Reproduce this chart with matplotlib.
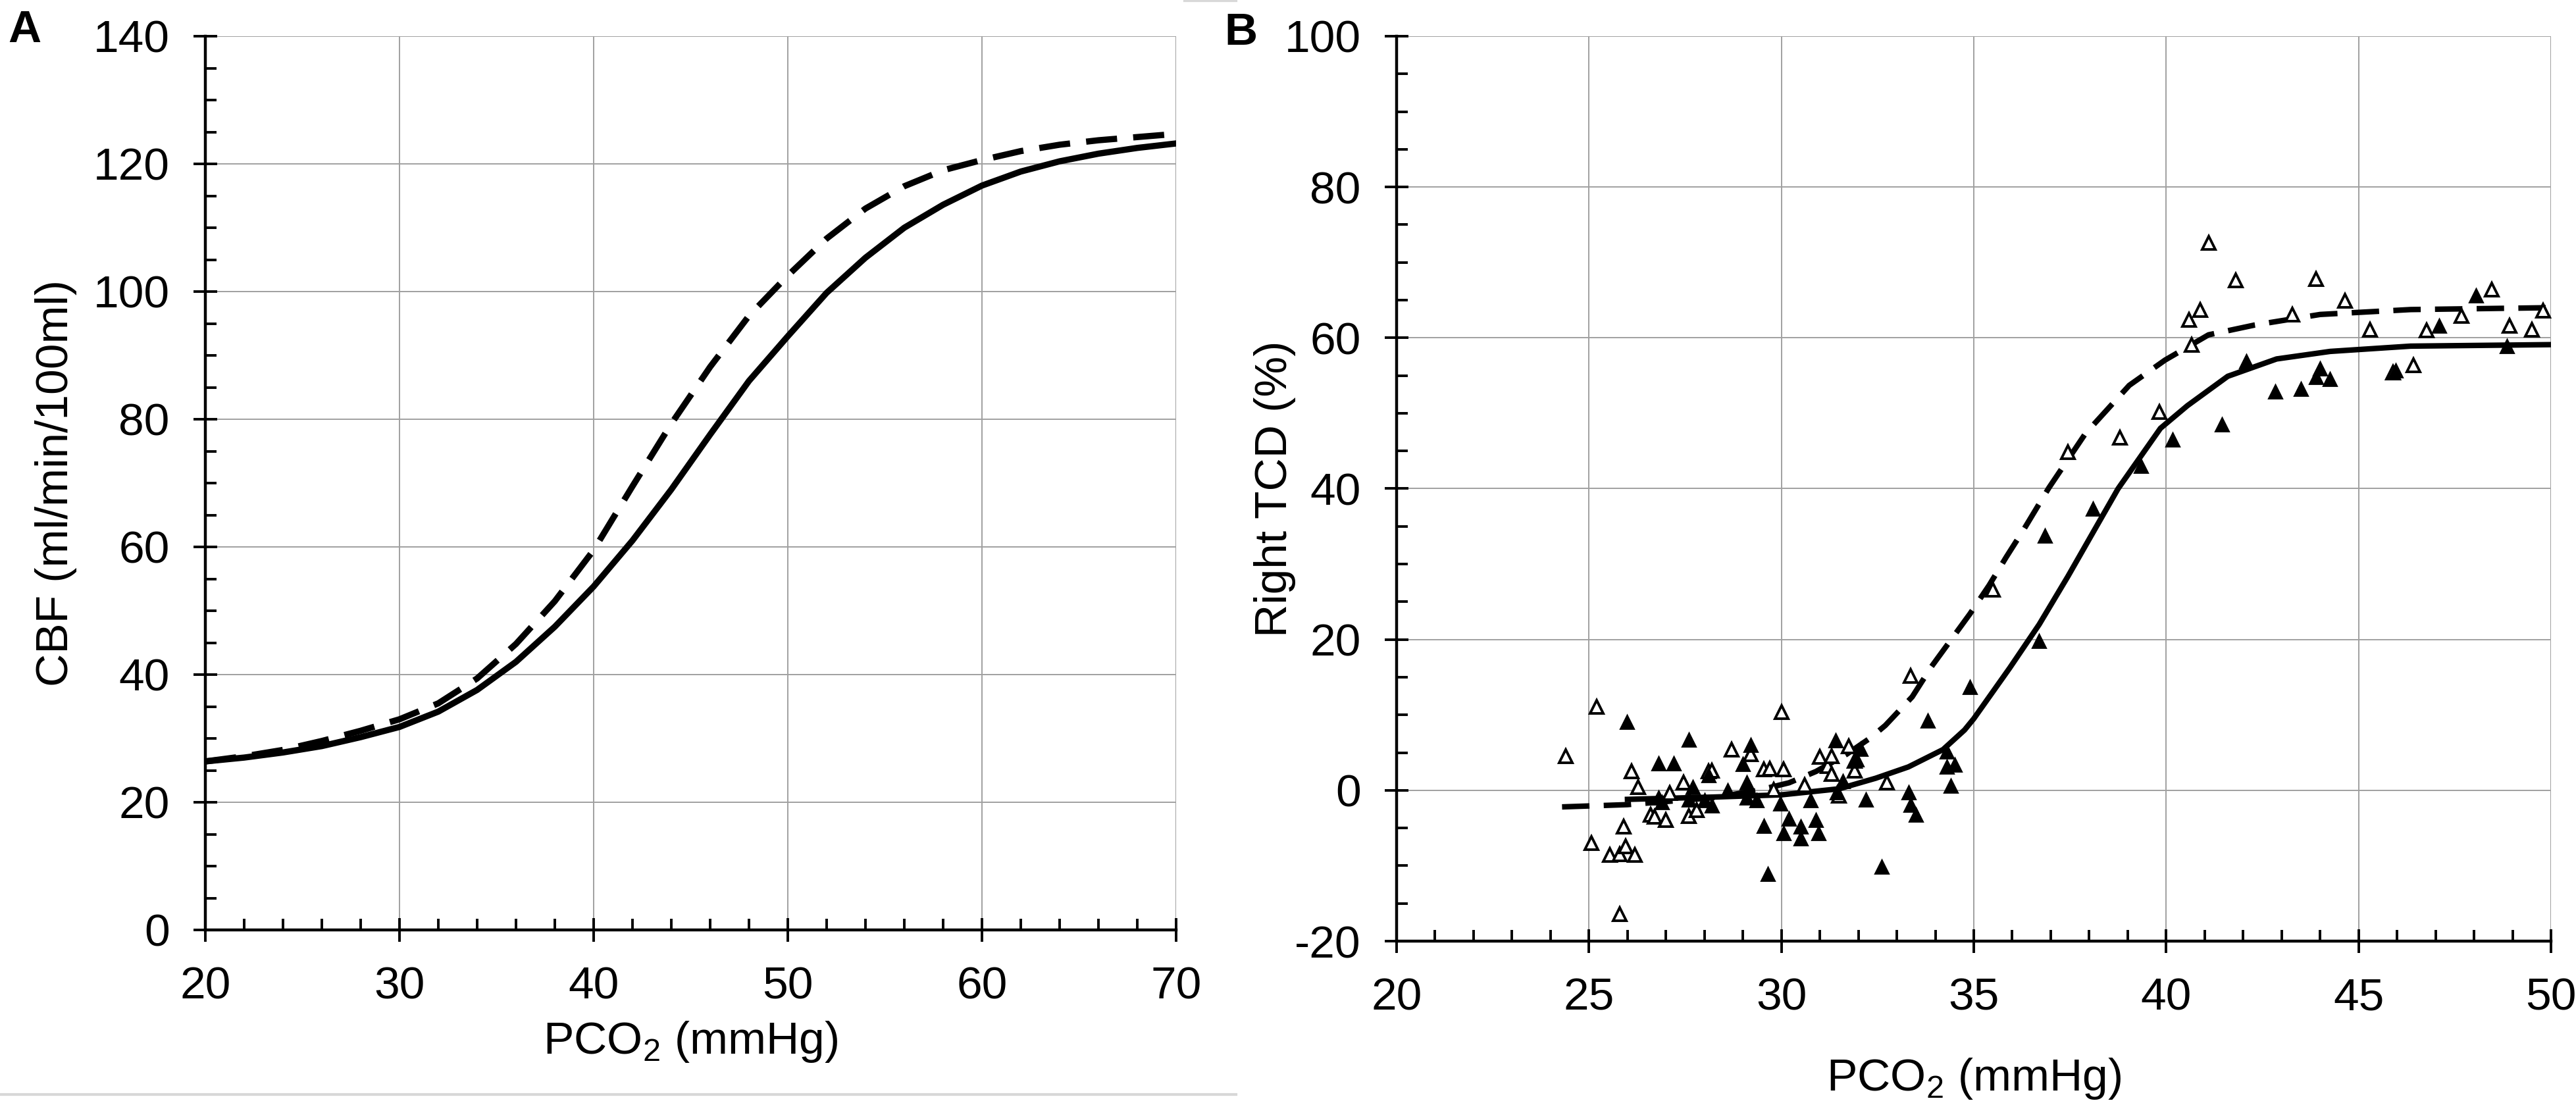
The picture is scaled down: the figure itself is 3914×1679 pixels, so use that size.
import matplotlib
matplotlib.use("Agg")
import matplotlib.pyplot as plt
from matplotlib.ticker import MultipleLocator
from matplotlib.lines import Line2D

plt.rcParams['font.family'] = ['Liberation Sans', 'DejaVu Sans']
plt.rcParams['mathtext.fontset'] = 'custom'
plt.rcParams['mathtext.rm'] = 'Liberation Sans'
plt.rcParams['axes.unicode_minus'] = False

# Panel A: model curves CBF vs PCO2
a_x = [20, 22, 24, 26, 28, 30, 32, 34, 36, 38, 40, 42, 44, 46, 48, 50, 52, 54, 56, 58, 60, 62, 64, 66, 68, 70]
a_solid = [26.4, 27.0, 27.8, 28.8, 30.2, 31.8, 34.2, 37.6, 42.0, 47.5, 53.8, 61.0, 69.0, 77.6, 86.0, 93.0,
           99.8, 105.3, 110.0, 113.6, 116.6, 118.8, 120.4, 121.6, 122.5, 123.2]
a_dashed = [26.4, 27.2, 28.2, 29.6, 31.2, 33.0, 35.5, 39.4, 44.8, 51.5, 59.5, 69.5, 79.3, 88.2, 96.2, 102.5,
            108.3, 113.0, 116.5, 119.0, 120.6, 122.0, 123.0, 123.7, 124.2, 124.7]

# Panel B: fitted curves
b_solid_x = [26.0, 28.2, 30.0, 31.5, 32.45, 33.3, 34.2, 34.76, 35.0, 35.93, 36.7, 37.45, 38.2, 38.75, 39.85,
             40.55, 41.6, 42.87, 44.26, 46.35, 50.0]
b_solid_y = [-1.2, -0.9, -0.6, 0.2, 1.6, 3.1, 5.4, 8.0, 9.5, 16.2, 22.0, 28.4, 35.1, 40.0, 48.0,
             51.0, 54.9, 57.2, 58.2, 58.9, 59.1]
b_dash_x = [24.3, 26.0, 28.2, 29.4, 30.2, 30.9, 31.7, 32.3, 32.7, 33.4, 33.9, 34.4, 34.9, 35.4, 35.84, 36.3,
            36.95, 37.9, 39.04, 39.97, 41.1, 42.3, 44.0, 46.35, 50.0]
b_dash_y = [-2.2, -1.9, -1.0, 0.0, 1.0, 2.5, 4.8, 6.9, 8.6, 12.4, 16.4, 19.9, 23.4, 27.2, 30.9, 34.6,
            40.1, 47.3, 53.7, 57.05, 60.4, 61.7, 63.1, 63.75, 64.0]

# Panel B: measured points (open triangles)
open_x = [24.4, 25.2, 25.06, 26.1, 26.27, 25.9, 25.54, 25.8, 25.96, 26.2, 25.8, 26.6, 26.7, 27.0, 27.1, 27.45,
          27.6, 27.8, 28.1, 28.2, 28.7, 29.2, 29.55, 29.7, 30.0, 30.06, 29.8, 30.6, 31.0, 31.2, 31.3, 31.3,
          31.5, 31.75, 31.9, 31.9, 32.75, 33.35, 35.5, 37.45, 38.8, 39.83, 40.6, 40.89, 40.66, 41.1, 41.8,
          43.27, 43.9, 44.65, 45.3, 45.9, 46.43, 46.77, 47.68, 48.46, 48.93, 49.5, 49.8]
open_y = [4.5, 11.1, -7.0, 2.5, 0.4, -4.8, -8.6, -8.5, -7.4, -8.6, -16.4, -3.2, -3.5, -3.9, -0.4, 1.0,
          -3.4, -2.6, 2.5, 2.6, 5.4, 4.8, 2.8, 2.9, 10.4, 2.8, 0.1, 0.7, 4.4, 3.2, 4.5, 2.2,
          -0.7, 5.8, 2.6, 3.9, 1.0, 15.2, 26.6, 44.8, 46.8, 50.2, 62.4, 63.7, 59.1, 72.6, 67.6,
          63.1, 67.8, 64.9, 61.1, 55.4, 56.4, 61.0, 62.9, 66.4, 61.6, 61.1, 63.6]

# Panel B: measured points (filled triangles)
fill_x = [25.99, 26.8, 27.2, 27.6, 27.7, 26.8, 26.9, 27.6, 28.0, 28.2, 28.1, 28.6, 29.0, 29.1, 29.2, 29.1,
          29.35, 29.55, 29.64, 29.98, 30.06, 30.2, 30.5, 30.5, 30.76, 30.9, 30.96, 31.4, 31.6, 31.45, 31.96,
          32.05, 32.2, 32.6, 33.3, 33.35, 33.5, 33.8, 34.3, 34.3, 34.5, 34.4, 34.9, 36.7, 36.84, 38.1,
          39.35, 40.17, 41.45, 42.08, 42.84, 43.5, 43.9, 44.0, 44.26, 45.97, 47.1, 48.05, 48.86]
fill_y = [9.05, 3.6, 3.6, 6.7, 0.4, -1.0, -1.6, -1.2, -1.3, -2.0, 2.0, 0.0, 3.5, 1.0, 6.0, -1.0,
          -1.3, -4.7, -11.1, -1.75, -5.7, -3.8, -6.4, -4.8, -1.3, -3.9, -5.7, 6.6, 1.2, -0.3, 4.1,
          5.5, -1.2, -10.1, -0.3, -1.9, -3.2, 9.2, 5.1, 3.1, 3.4, 0.6, 13.7, 19.8, 33.8, 37.3,
          43.0, 46.5, 48.5, 56.9, 52.9, 53.2, 54.8, 55.9, 54.5, 55.7, 61.6, 65.6, 58.9]

W, H = 3914, 1679
fig = plt.figure(figsize=(W / 200, H / 200), dpi=200)
fs = 25

def style_axes(ax, xminor, yminor):
    ax.spines['top'].set_visible(False)
    ax.spines['right'].set_visible(False)
    ax.spines['left'].set_linewidth(1.6)
    ax.spines['bottom'].set_linewidth(1.6)
    ax.xaxis.set_minor_locator(MultipleLocator(xminor))
    ax.yaxis.set_minor_locator(MultipleLocator(yminor))
    ax.tick_params(which='major', direction='inout', length=13, width=1.4, pad=13, labelsize=fs)
    ax.tick_params(which='minor', direction='in', length=6, width=1.4)
    ax.grid(True, which='major', color='#a0a0a0', linewidth=0.7)
    ax.set_axisbelow(True)

# Panel A
axA = fig.add_axes([312 / W, 1 - 1413 / H, (1787 - 312) / W, (1413 - 55) / H])
axA.plot(a_x, a_solid, color='black', lw=3.4, solid_capstyle='round')
axA.plot(a_x, a_dashed, color='black', lw=3.4, linestyle=(0, (5, 2.6)))
axA.set_xlim(20, 70)
axA.set_ylim(0, 140)
axA.xaxis.set_major_locator(MultipleLocator(10))
axA.yaxis.set_major_locator(MultipleLocator(20))
style_axes(axA, 2, 5)
axA.set_xlabel(r'PCO$_\mathregular{2}$ (mmHg)', fontsize=fs)
axA.set_ylabel('CBF (ml/min/100ml)', fontsize=fs)
axA.xaxis.set_label_coords(0.5, -0.10)
axA.yaxis.set_label_coords(-0.132, 0.5)

# Panel B
axB = fig.add_axes([2122 / W, 1 - 1430 / H, (3876 - 2122) / W, (1430 - 55) / H])
axB.plot(b_solid_x, b_solid_y, color='black', lw=3.0)
axB.plot(b_dash_x, b_dash_y, color='black', lw=3.0, linestyle=(0, (5, 2.6)))
axB.plot(open_x, open_y, linestyle='none', marker='^', ms=7.5, mfc='white', mec='black', mew=1.4)
axB.plot(fill_x, fill_y, linestyle='none', marker='^', ms=7.5, mfc='black', mec='black', mew=1.0)
axB.set_xlim(20, 50)
axB.set_ylim(-20, 100)
axB.xaxis.set_major_locator(MultipleLocator(5))
axB.yaxis.set_major_locator(MultipleLocator(20))
style_axes(axB, 1, 5)
axB.set_xlabel(r'PCO$_\mathregular{2}$ (mmHg)', fontsize=fs)
axB.set_ylabel('Right TCD (%)', fontsize=fs)
axB.xaxis.set_label_coords(0.5, -0.127)
axB.yaxis.set_label_coords(-0.087, 0.5)

fig.text(12 / W, 1 - 14 / H, 'A', fontsize=fs, fontweight='bold', va='top', ha='left')
fig.text(1860 / W, 1 - 18 / H, 'B', fontsize=fs, fontweight='bold', va='top', ha='left')

# faint frame lines around panel A
fig.add_artist(Line2D([0, 1878 / W], [1 - 1663 / H] * 2, color='#d8d8d8', lw=1.5))
fig.add_artist(Line2D([1800 / W, 1878 / W], [1 - 1 / H] * 2, color='#d8d8d8', lw=1.5))

fig.savefig('out.png', dpi=200)
